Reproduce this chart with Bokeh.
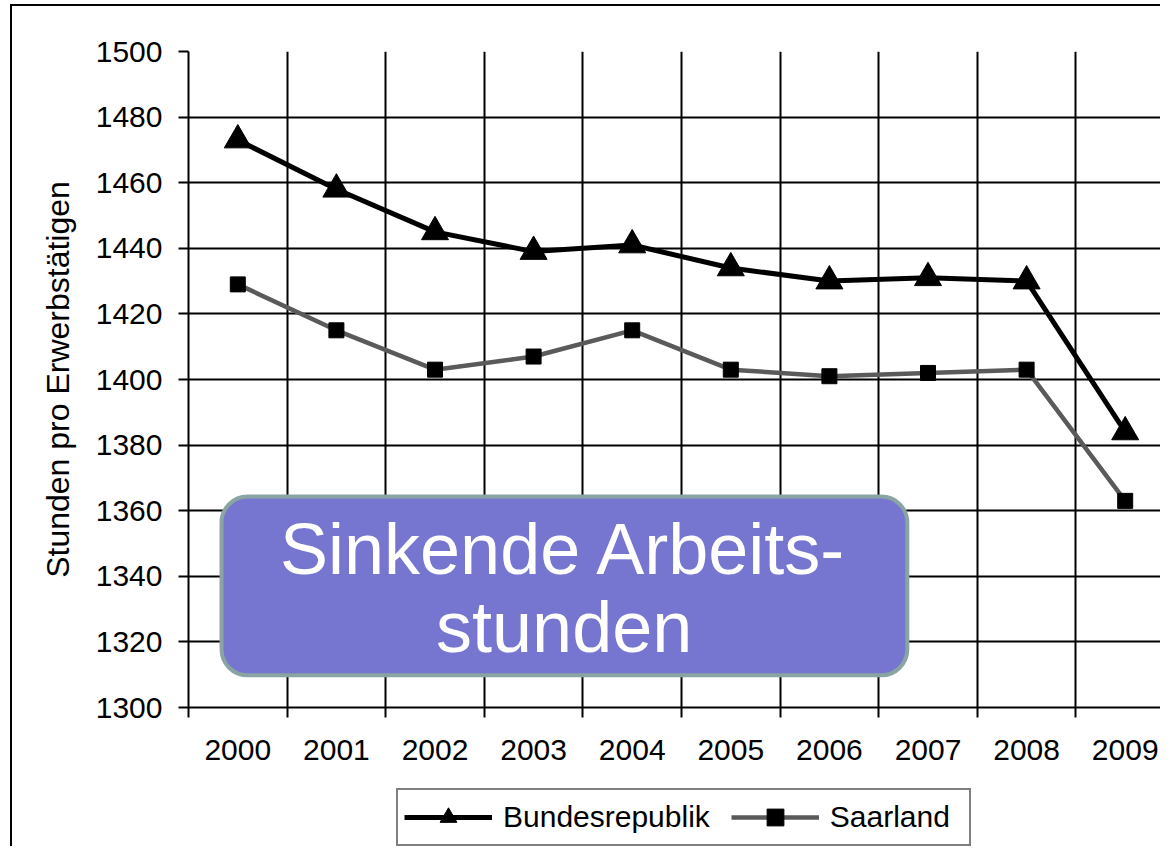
from bokeh.plotting import figure
from bokeh.layouts import column
from bokeh.models import (Range1d, FixedTicker, Legend, LegendItem, BoxAnnotation,
                          Label, Grid, ColumnDataSource)
from bokeh.embed import file_html
from bokeh.resources import INLINE

# ---- data ----
years = ["2000", "2001", "2002", "2003", "2004", "2005", "2006", "2007", "2008", "2009"]
bundesrepublik = [1473, 1458, 1445, 1439, 1441, 1434, 1430, 1431, 1430, 1384]
saarland = [1429, 1415, 1403, 1407, 1415, 1403, 1401, 1402, 1403, 1363]
y_ticks = [1300, 1320, 1340, 1360, 1380, 1400, 1420, 1440, 1460, 1480, 1500]
series_names = ["Bundesrepublik", "Saarland"]
y_label = "Stunden pro Erwerbstätigen"
box_lines = ["Sinkende Arbeits-", "stunden"]

FONT = "Liberation Sans"
W = 1160

xpos = [i + 0.5 for i in range(len(years))]
boundaries = list(range(len(years) + 1))

src = ColumnDataSource(dict(x=xpos, bund=bundesrepublik, saar=saarland))

p = figure(width=W, height=782, output_backend="svg", toolbar_location=None,
           x_range=Range1d(0, 9.858), y_range=Range1d(1300, 1500),
           min_border_left=188, min_border_top=51, min_border_right=0, min_border_bottom=75)
p.outline_line_color = None
p.background_fill_color = "white"
p.border_fill_color = None
p.styles = {
    "background-color": "white",
    "background-image": "linear-gradient(#000, #000), linear-gradient(#000, #000)",
    "background-size": "2px 100%, 100% 2px",
    "background-position": "10px 4px, 10px 4px",
    "background-repeat": "no-repeat",
}

# grids
p.xgrid.ticker = FixedTicker(ticks=boundaries)
p.xgrid.grid_line_color = "black"
p.xgrid.grid_line_width = 2
p.ygrid.ticker = FixedTicker(ticks=y_ticks[1:-1])
p.ygrid.grid_line_color = "black"
p.ygrid.grid_line_width = 2
p.add_layout(Grid(dimension=1, ticker=FixedTicker(ticks=[y_ticks[-1]]),
                  grid_line_color="#8a8a8a", grid_line_width=2))

# x axis
xa = p.xaxis[0]
xa.ticker = FixedTicker(ticks=xpos, minor_ticks=boundaries)
xa.major_label_overrides = {x: y for x, y in zip(xpos, years)}
xa.major_tick_line_color = None
xa.major_tick_out = 10
xa.major_tick_in = 0
xa.minor_tick_line_color = "black"
xa.minor_tick_line_width = 2
xa.minor_tick_out = 10
xa.minor_tick_in = 0
xa.axis_line_color = "black"
xa.axis_line_width = 2
xa.major_label_text_font = FONT
xa.major_label_text_font_size = "30px"
xa.major_label_text_color = "black"
xa.major_label_standoff = 22

# y axis
ya = p.yaxis[0]
ya.ticker = FixedTicker(ticks=y_ticks)
ya.minor_tick_line_color = None
ya.major_tick_out = 10
ya.major_tick_in = 0
ya.major_tick_line_color = "black"
ya.major_tick_line_width = 2
ya.axis_line_color = "black"
ya.axis_line_width = 2
ya.major_label_text_font = FONT
ya.major_label_text_font_size = "30px"
ya.major_label_text_color = "black"
ya.major_label_standoff = 16
ya.axis_label = y_label
ya.axis_label_text_font = FONT
ya.axis_label_text_font_size = "32px"
ya.axis_label_text_font_style = "normal"
ya.axis_label_text_color = "black"
ya.axis_label_standoff = 17

# series
l1 = p.line("x", "bund", source=src, line_color="black", line_width=5)
m1 = p.scatter("x", "bund", source=src, marker="triangle", size=27,
               fill_color="black", line_color="black")
l2 = p.line("x", "saar", source=src, line_color="#5a5a5a", line_width=4.5)
m2 = p.scatter("x", "saar", source=src, marker="square", size=15,
               fill_color="black", line_color="black")

# annotation box
box = BoxAnnotation(left=0.335, right=7.29, top=1364.3, bottom=1309.8,
                    fill_color="#7676d0", fill_alpha=1.0,
                    line_color="#8aa3a3", line_width=4, line_alpha=1.0,
                    border_radius=26, editable=False)
p.add_layout(box)
p.add_layout(Label(x=3.81, y=1348.2, text=box_lines[0], text_align="center",
                   text_baseline="alphabetic", text_font=FONT, text_font_size="72px",
                   text_color="white"))
p.add_layout(Label(x=3.81, y=1324.5, text=box_lines[1], text_align="center",
                   text_baseline="alphabetic", text_font=FONT, text_font_size="72px",
                   text_color="white"))

# legend strip below the chart; its series lie outside its (0..1) view,
# only the legend swatches show
lg = figure(width=W, height=64, output_backend="svg", toolbar_location=None,
            x_range=Range1d(0, 1), y_range=Range1d(0, 1),
            x_axis_location=None, y_axis_location=None,
            min_border=0)
lg.outline_line_color = None
lg.grid.visible = False
lg.border_fill_color = None
lg.styles = {
    "background-color": "white",
    "background-image": "linear-gradient(#000, #000)",
    "background-size": "2px 100%",
    "background-position": "10px 0px",
    "background-repeat": "no-repeat",
}
g1 = lg.line("x", "bund", source=src, line_color="black", line_width=5)
g1m = lg.scatter("x", "bund", source=src, marker="triangle", size=24,
                 fill_color="black", line_color="black")
g2 = lg.line("x", "saar", source=src, line_color="#5a5a5a", line_width=4.5)
g2m = lg.scatter("x", "saar", source=src, marker="square", size=14,
                 fill_color="black", line_color="black")
legend = Legend(items=[LegendItem(label=series_names[0], renderers=[g1, g1m]),
                       LegendItem(label=series_names[1], renderers=[g2, g2m])],
                orientation="horizontal", location=(208, 0),
                glyph_width=88, glyph_height=42, label_height=30, label_width=133,
                label_standoff=11, spacing=21, padding=6, margin=0,
                label_text_font=FONT, label_text_font_size="30px",
                label_text_color="black",
                border_line_color="black", border_line_width=2,
                background_fill_color="white", background_fill_alpha=1.0)
lg.add_layout(legend)

page = column(p, lg, spacing=0)
open("out.html", "w").write(file_html(page, INLINE))
